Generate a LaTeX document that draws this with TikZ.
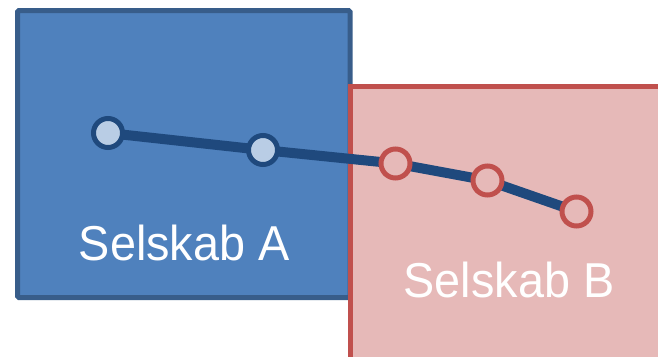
\documentclass[tikz,border=0pt]{standalone}
\usepackage{fontspec}
\setmainfont{Liberation Sans}
\definecolor{afill}{HTML}{4F81BD}
\definecolor{aline}{HTML}{385D8A}
\definecolor{chain}{HTML}{1F497D}
\definecolor{lightdot}{HTML}{B9CDE5}
\definecolor{bline}{HTML}{C0504D}
\definecolor{bfill}{HTML}{E6B9B8}
\tikzset{
  company/.style={line width=5pt},
  label/.style={text=white, font=\fontsize{49}{58}\selectfont, anchor=base, inner sep=0pt, xscale=0.955},
  adot/.style={circle, draw=chain, fill=lightdot, line width=5pt, minimum size=29pt, inner sep=0pt},
  bdot/.style={circle, draw=bline, fill=bfill, line width=5pt, minimum size=29pt, inner sep=0pt},
  link/.style={draw=chain, line width=10pt}
}
\begin{document}
\begin{tikzpicture}[x=1pt,y=-1pt]
\useasboundingbox (0,0) rectangle (658,356);
\begin{scope}
\clip (0,0) rectangle (658,356);
\draw[company, draw=aline, fill=afill, rounded corners=1.5pt] (17.5,10.5) rectangle (350,297.5);
\draw[company, draw=bline, fill=bfill] (350.5,86.5) rectangle (680,380);
\end{scope}
\node[label] (la) at (184.3,260) {Selskab A};
\node[label] (lb) at (509,297) {Selskab B};
\coordinate (c1) at (108,133);
\coordinate (c2) at (263,150);
\coordinate (c3) at (395.5,163.5);
\coordinate (c4) at (487.5,180.5);
\coordinate (c5) at (576.5,211.5);
\draw[link] (c1) -- (c2) -- (c3) -- (c4) -- (c5);
\node[adot] (p1) at (c1) {};
\node[adot] (p2) at (c2) {};
\node[bdot] (p3) at (c3) {};
\node[bdot] (p4) at (c4) {};
\node[bdot] (p5) at (c5) {};
\end{tikzpicture}
\end{document}
